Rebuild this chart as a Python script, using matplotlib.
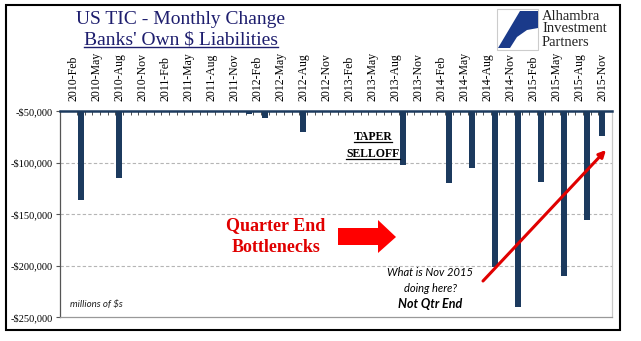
import matplotlib.pyplot as plt
from matplotlib.patches import Polygon, Rectangle
from matplotlib.lines import Line2D
import numpy as np

# monthly change, millions of $ (2010-Feb .. 2015-Nov); values above -50,000 sit off the axis
values = [-30000, -136000, -51000, -20000, -35000, -10000, -115000, -25000, 5000, -15000,
          -30000, -10000, 8000, -40000, -5000, -20000, -45000, 10000, -25000, -38000,
          -12000, 3000, -42000, -53000, -18000, -57000, -8000, -22000, -44000, 6000,
          -70000, -30000, -51000, -15000, -40000, 12000, -20000, -46000, -5000, -28000,
          -47000, -10000, -35000, -102000, -8000, -25000, -45000, 4000, -30000, -120000,
          -15000, -40000, -105000, -20000, -10000, -201000, -35000, -5000, -240000, -25000,
          -12000, -119000, -30000, -8000, -210000, -40000, -20000, -156000, -15000, -74000]

tick_labels = ['2010-Feb', '2010-May', '2010-Aug', '2010-Nov', '2011-Feb', '2011-May',
               '2011-Aug', '2011-Nov', '2012-Feb', '2012-May', '2012-Aug', '2012-Nov',
               '2013-Feb', '2013-May', '2013-Aug', '2013-Nov', '2014-Feb', '2014-May',
               '2014-Aug', '2014-Nov', '2015-Feb', '2015-May', '2015-Aug', '2015-Nov']
y_ticks = [-250000, -200000, -150000, -100000, -50000]
y_tick_labels = ['-$250,000', '-$200,000', '-$150,000', '-$100,000', '-$50,000']

W, H = 641, 341
NAVY = '#1c3a5e'
SERIF = 'Liberation Serif'


def fx(x):
    return x / W


def fy(y):
    return 1 - y / H


fig = plt.figure(figsize=(W / 100, H / 100), dpi=100)
ax = fig.add_axes([fx(60), fy(317), (612 - 60) / W, (317 - 111) / H])

x = np.arange(len(values))
ax.bar(x, values, width=0.76, color=NAVY, zorder=3)

ax.set_xlim(-1.7, 70.3)
ax.set_ylim(-250000, -50000)

# category labels on top
ax.xaxis.tick_top()
ax.set_xticks(x[::3])
ax.set_xticklabels(tick_labels, rotation=90, fontsize=8.5, family=SERIF)
ax.tick_params(axis='x', which='major', length=0, pad=7)
ax.set_xticks(x[:-1] + 0.5, minor=True)
ax.tick_params(axis='x', which='minor', direction='in', length=3, color='#333333', top=True)

ax.set_yticks(y_ticks)
ax.set_yticklabels(y_tick_labels, fontsize=7.5, family=SERIF)
ax.tick_params(axis='y', length=3, color='#555555', pad=2)

for v in y_ticks[1:-1]:
    ax.axhline(v, color='#b5b5b5', lw=0.8, ls=(0, (3, 2)), zorder=1)

ax.spines['top'].set_color(NAVY)
ax.spines['top'].set_linewidth(1.8)
ax.spines['left'].set_color('#555555')
ax.spines['bottom'].set_color('#999999')
ax.spines['right'].set_color('#c8c8c8')
for s in ['left', 'bottom', 'right']:
    ax.spines[s].set_linewidth(0.9)

# outer frame
fig.add_artist(Rectangle((fx(6), fy(330)), (620 - 6) / W, (330 - 5) / H,
                         transform=fig.transFigure, fill=False, ec='black', lw=1.5))

# title
TCOL = '#1e1e6e'
fig.text(fx(181), fy(20), 'US TIC - Monthly Change', ha='center', va='center',
         fontsize=14, family=SERIF, color=TCOL)
t2 = fig.text(fx(181), fy(40), "Banks' Own $ Liabilities", ha='center', va='center',
              fontsize=14, family=SERIF, color=TCOL)

# logo
fig.add_artist(Rectangle((fx(497), fy(50)), 41 / W, 41 / H, transform=fig.transFigure,
                         fill=False, ec='#cccccc', lw=0.8))
swoosh = [(520, 11), (538, 11), (538, 28), (527, 30), (517, 37), (510, 48), (498, 48)]
fig.add_artist(Polygon([(fx(a), fy(b)) for a, b in swoosh], closed=True,
                       transform=fig.transFigure, fc='#1a3a8a', ec='none'))
for txt, yy in [('Alhambra', 16), ('Investment', 29), ('Partners', 42)]:
    fig.text(fx(542), fy(yy), txt, ha='left', va='center', fontsize=10.5,
             family=SERIF, color='#222222')

# annotations
taper = [fig.text(fx(373), fy(137), 'TAPER', ha='center', va='center', fontsize=8.5,
                  family=SERIF, weight='bold'),
         fig.text(fx(373), fy(154), 'SELLOFF', ha='center', va='center', fontsize=8.5,
                  family=SERIF, weight='bold')]

fig.text(fx(276), fy(226), 'Quarter End', ha='center', va='center', fontsize=13,
         family=SERIF, weight='bold', color='#e00000')
fig.text(fx(276), fy(247), 'Bottlenecks', ha='center', va='center', fontsize=13,
         family=SERIF, weight='bold', color='#e00000')

block = [(338, 228), (378, 228), (378, 220), (396, 237), (378, 253), (378, 245), (338, 245)]
fig.add_artist(Polygon([(fx(a), fy(b)) for a, b in block], closed=True,
                       transform=fig.transFigure, fc='#ff0000', ec='none'))

fig.text(fx(430), fy(273), 'What is Nov 2015', ha='center', va='center', fontsize=8,
         family='Lato', style='italic')
fig.text(fx(430), fy(288), 'doing here?', ha='center', va='center', fontsize=8,
         family='Lato', style='italic')
fig.text(fx(430), fy(304), 'Not Qtr End', ha='center', va='center', fontsize=9,
         family='Lato', style='italic', weight='bold')

fig.text(fx(70), fy(304), 'millions of $s', ha='left', va='center', fontsize=7,
         family='Lato', style='italic', color='#222222')

ax.annotate('', xy=(606, H - 150), xytext=(483, H - 281), xycoords='figure pixels',
            textcoords='figure pixels',
            arrowprops=dict(arrowstyle='-|>', color='#e00000', lw=2.2,
                            mutation_scale=10, shrinkA=0, shrinkB=0))

# underlines
fig.canvas.draw()
r = fig.canvas.get_renderer()


def underline(t, off, color, lw):
    bb = t.get_window_extent(renderer=r)
    yline = bb.y0 + off
    fig.add_artist(Line2D([bb.x0 / W, bb.x1 / W], [yline / H, yline / H],
                          transform=fig.transFigure, color=color, lw=lw))


underline(t2, 2, TCOL, 1.0)
for t in taper:
    underline(t, 1, 'black', 0.9)

fig.savefig('out.png', dpi=100)
